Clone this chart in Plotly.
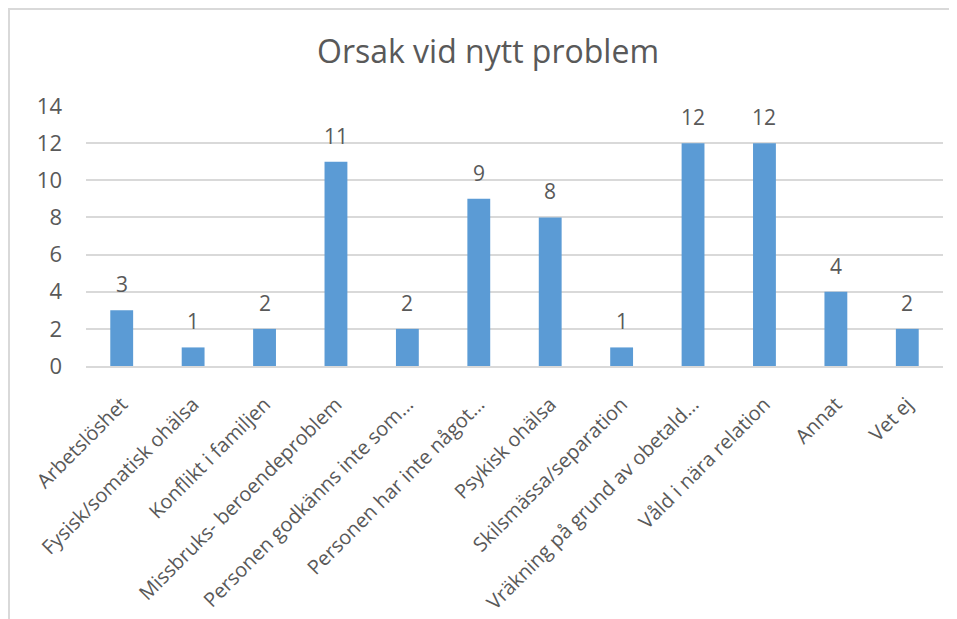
import plotly.graph_objects as go

# Data
categories = [
    "Arbetslöshet",
    "Fysisk/somatisk ohälsa",
    "Konflikt i familjen",
    "Missbruks- beroendeproblem",
    "Personen godkänns inte som…",
    "Personen har inte något…",
    "Psykisk ohälsa",
    "Skilsmässa/separation",
    "Vräkning på grund av obetald…",
    "Våld i nära relation",
    "Annat",
    "Vet ej",
]
counts = [3, 1, 2, 11, 2, 9, 8, 1, 12, 12, 4, 2]
y_ticks = [0, 2, 4, 6, 8, 10, 12, 14]

# the page body has an 8px margin, so the figure is drawn 8px smaller
W, H = 957 - 8, 619 - 8
ML, MT = 78, 98
PW, PH = 857, 260
MR, MB = W - ML - PW, H - MT - PH
TXT = "#595959"
FONT = "Open Sans"


def px_x(px):
    return (px - ML) / PW


def px_y(py):
    return (H - MB - py) / PH


fig = go.Figure()

fig.add_trace(go.Bar(
    x=categories,
    y=counts,
    marker=dict(color="#5b9bd5", line=dict(width=0)),
    hoverinfo="x+y",
))

# value labels sit a bit higher above the bars than plotly's default
for cat, val in zip(categories, counts):
    fig.add_annotation(x=cat, y=val, text=str(val), showarrow=False,
                       xanchor="center", yanchor="bottom", yshift=10,
                       font=dict(family=FONT, size=21, color=TXT))

# outer chart border
fig.add_shape(type="rect", xref="paper", yref="paper",
              x0=px_x(1), x1=px_x(W + 10), y0=px_y(H + 10), y1=px_y(1),
              line=dict(color="#d9d9d9", width=2), layer="below")

fig.update_layout(
    width=W, height=H,
    margin=dict(l=ML, r=MR, t=MT, b=MB, autoexpand=False),
    paper_bgcolor="white",
    plot_bgcolor="white",
    showlegend=False,
    bargap=0.68,
    title=dict(text="Orsak vid nytt problem", x=480 / W, xanchor="center",
               y=1 - 44 / H, yanchor="middle",
               font=dict(family=FONT, size=32, color=TXT)),
    font=dict(family=FONT, color=TXT),
)

fig.update_xaxes(
    tickangle=-45,
    tickfont=dict(family=FONT, size=20, color=TXT),
    showline=True, linecolor="#d9d9d9", linewidth=1.5,
    ticks="", showgrid=False,
    ticklabelstandoff=17,
)
fig.update_yaxes(
    range=[0, 14],
    tickvals=y_ticks,
    tickfont=dict(family=FONT, size=22, color=TXT),
    showgrid=True, gridcolor="#d9d9d9", gridwidth=1.5,
    zeroline=False, showline=False, ticks="",
    ticklabelstandoff=23,
)

fig.write_html("out.html")
